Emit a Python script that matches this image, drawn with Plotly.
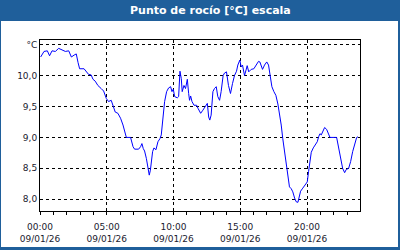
import plotly.graph_objects as go

DATE = "2026-01-09"
times = ["00:03","00:18","00:33","00:43","00:54","01:09","01:24","01:39","01:54","02:09",
         "02:21","02:33","02:43","02:51","02:58","03:18","03:28","03:38","03:50","03:58",
         "04:08","04:20","04:35","04:46","04:58","05:08","05:20","05:29","05:38","05:50",
         "06:02","06:13","06:23","06:28","06:47","06:58","07:05","07:23","07:32","07:38",
         "07:44","07:50","07:58","08:05","08:11","08:16","08:20","08:26","08:32","08:41",
         "08:50","08:59","09:05","09:12","09:20","09:29","09:38","09:47","09:53","09:59",
         "10:05","10:17","10:23","10:29","10:35","10:39","10:47","10:54","11:02","11:08",
         "11:12","11:17","11:23","11:32","11:44","11:50","12:02","12:12","12:23","12:32",
         "12:38","12:43","12:49","12:57","13:04","13:12","13:19","13:27","13:34","13:43",
         "13:49","13:58","14:07","14:16","14:25","14:34","14:43","14:49","14:58","15:04",
         "15:10","15:19","15:26","15:31","15:38","15:49","16:01","16:11","16:22","16:28",
         "16:40","16:49","16:59","17:07","17:16","17:22","17:31","17:40","17:49","17:56",
         "18:04","18:11","18:19","18:26","18:34","18:41","18:49","18:56","19:04","19:11",
         "19:19","19:25","19:31","19:41","19:52","20:01","20:07","20:13","20:19","20:28",
         "20:37","20:46","20:52","20:58","21:04","21:13","21:19","21:28","21:37","21:43",
         "22:13","22:22","22:31","22:40","22:49","22:56","23:07","23:16","23:25","23:34",
         "23:43","23:49"]
dew_point = [10.30,10.39,10.40,10.32,10.40,10.39,10.44,10.41,10.39,10.40,
             10.30,10.33,10.35,10.21,10.11,10.11,10.06,10.02,10.01,9.94,
             9.91,9.84,9.79,9.75,9.63,9.58,9.60,9.52,9.41,9.39,
             9.31,9.20,9.06,9.00,9.00,8.85,8.81,8.81,8.85,8.90,
             8.82,8.78,8.66,8.53,8.39,8.47,8.61,8.77,8.83,8.80,
             8.93,8.98,9.04,9.25,9.58,9.74,9.80,9.82,9.74,9.78,
             9.66,9.64,9.66,10.07,9.95,9.74,9.84,9.79,9.94,9.71,
             9.60,9.67,9.58,9.52,9.52,9.47,9.39,9.44,9.49,9.55,
             9.33,9.28,9.36,9.74,9.79,9.82,9.66,9.60,9.74,10.00,
             10.04,10.06,9.84,9.71,9.87,10.00,10.07,10.17,10.25,10.14,
             10.17,10.00,10.09,10.16,10.06,10.10,10.11,10.16,10.23,10.22,
             10.10,10.17,10.22,10.17,9.95,9.82,9.74,9.68,9.54,9.39,
             9.20,8.98,8.77,8.53,8.34,8.20,8.17,8.12,8.02,7.96,
             7.95,8.04,8.13,8.18,8.23,8.28,8.45,8.61,8.76,8.83,
             8.88,8.93,9.01,9.06,9.04,9.13,9.16,9.13,9.06,9.00,
             9.00,8.82,8.66,8.50,8.43,8.48,8.50,8.61,8.77,8.90,
             9.00,9.01]
x_tick_times = ["00:00", "05:00", "10:00", "15:00", "20:00"]
x_tick_date = "09/01/26"
y_tick_vals = [8.0, 8.5, 9.0, 9.5, 10.0, 10.5]
y_tick_text = ["8,0", "8,5", "9,0", "9,5", "10,0", "°C"]
title = "Punto de rocío [°C] escala"

BLUE = "#1f5f9b"
FONT = "DejaVu Sans"

x = [f"{DATE} {t}" for t in times]

fig = go.Figure()
fig.add_trace(go.Scatter(x=x, y=dew_point, mode="lines",
                         line=dict(color="#0000ff", width=1), showlegend=False))

W, H = 400, 250
L, R, T, B = 40, 40, 40, 39
pw, ph = W - L - R, H - T - B

def px2x(px):
    return (px - L) / pw

def py2y(py):
    return (H - B - py) / ph

fig.add_shape(type="rect", xref="paper", yref="paper",
              x0=px2x(1), x1=px2x(398), y0=py2y(247), y1=py2y(21),
              fillcolor="white", line=dict(width=0), layer="below")

fig.add_annotation(text=f"<b>{title}</b>", xref="paper", yref="paper",
                   x=px2x(210), y=py2y(10.5), xanchor="center", yanchor="middle",
                   showarrow=False, font=dict(family=FONT, size=11, color="white"))

fig.update_layout(
    width=W, height=H,
    margin=dict(l=L, r=R, t=T, b=B, pad=0, autoexpand=False),
    paper_bgcolor=BLUE, plot_bgcolor="white",
    font=dict(family=FONT, size=9, color="#1a1a2e"),
)
fig.update_xaxes(
    type="date", automargin=False,
    range=[f"{DATE} 00:00", f"{DATE} 23:58"],
    tickvals=[f"{DATE} {t}" for t in x_tick_times],
    ticktext=[f"{t}<br>{x_tick_date}" for t in x_tick_times],
    ticks="outside", ticklen=3, tickcolor="black", tickwidth=1,
    ticklabelstandoff=4,
    minor=dict(dtick=3600000, tick0=f"{DATE} 00:00", ticks="outside", ticklen=3,
               tickcolor="black", showgrid=False),
    showgrid=True, gridcolor="black", gridwidth=1, griddash="3px,3px",
    showline=True, linecolor="black", linewidth=1, mirror=True,
    zeroline=False,
)
fig.update_yaxes(
    automargin=False,
    range=[7.81, 10.575],
    tickvals=y_tick_vals, ticktext=y_tick_text,
    ticks="",
    showgrid=True, gridcolor="black", gridwidth=1, griddash="3px,3px",
    showline=True, linecolor="black", linewidth=1, mirror=True,
    zeroline=False,
)

fig.write_html("out.html")
